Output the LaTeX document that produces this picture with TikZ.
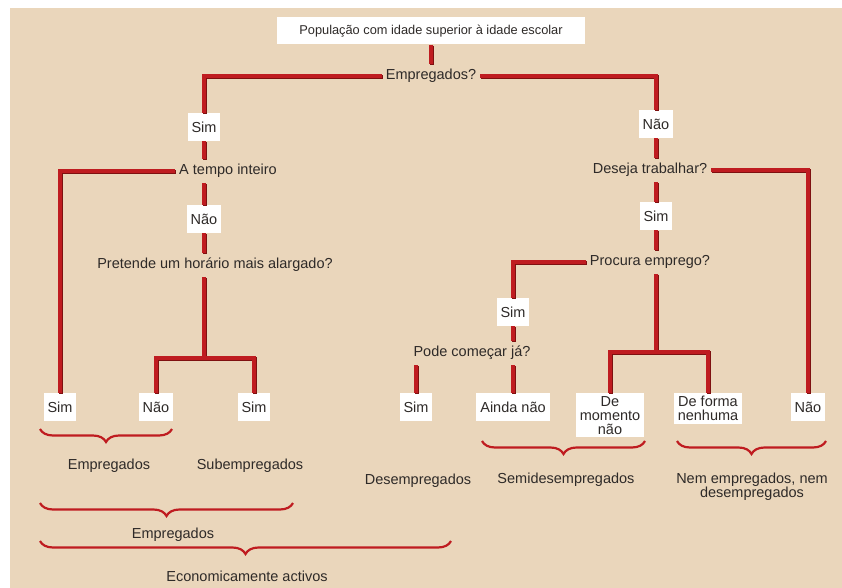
\documentclass[tikz,border=0pt]{standalone}
\usepackage{fontspec}
\setmainfont{Liberation Sans}
\usetikzlibrary{decorations.pathreplacing}
\definecolor{bg}{HTML}{EAD6BB}
\definecolor{lred}{HTML}{BF1C20}
\definecolor{ldark}{HTML}{7E1010}
\definecolor{txt}{HTML}{2E2A28}
\newcommand\lblfont{\fontsize{14.5}{14}\selectfont}
\newcommand\topfont{\fontsize{12.8}{12.8}\selectfont}
\begin{document}
\begin{tikzpicture}[x=1pt,y=-1pt,
  rl/.style={line width=4pt, draw=lred, line join=miter,
    preaction={draw=ldark, line width=4pt, transform canvas={shift={(0.9pt,-0.9pt)}}}},
  wbox/.style={fill=white, inner xsep=4pt, inner ysep=3pt, minimum height=28pt,
    font=\lblfont, text=txt, align=center},
  qtext/.style={inner xsep=4pt, inner ysep=5pt, font=\lblfont, text=txt},
  ltext/.style={font=\lblfont, text=txt, align=center},
  brc/.style={decorate, decoration={brace, mirror, amplitude=13pt}, draw=lred, line width=2.2pt}]
\useasboundingbox (0,0) rectangle (842,588);
\fill[bg] (10,8) rectangle (842,588);

% top
\node[fill=white, minimum width=308pt, minimum height=27pt, font=\topfont, text=txt] (top) at (431,31) {População com idade superior à idade escolar};
\node[qtext] (emp) at (431,76) {Empregados?};
\node[wbox] (sim1) at (204,127) {Sim};
\node[wbox] (nao1) at (656,124) {Não};
\node[qtext] (tempo) at (228,171) {A tempo inteiro};
\node[wbox] (nao2) at (204,219) {Não};
\node[qtext] (pret) at (215,265) {Pretende um horário mais alargado?};
\coordinate (j1) at (204,358);
\node[qtext] (deseja) at (650,170) {Deseja trabalhar?};
\node[wbox] (sim2) at (656,216) {Sim};
\node[qtext] (procura) at (650,262) {Procura emprego?};
\node[wbox] (sim4) at (513,312) {Sim};
\node[qtext] (pode) at (472,353) {Pode começar já?};
\coordinate (j2) at (656,352);

% bottom row
\node[wbox, anchor=north] (simA) at (60,393) {Sim};
\node[wbox, anchor=north] (nao3) at (156,393) {Não};
\node[wbox, anchor=north] (sim3) at (254,393) {Sim};
\node[wbox, anchor=north] (simD) at (416,393) {Sim};
\node[wbox, anchor=north] (ainda) at (513,393) {Ainda não};
\node[wbox, anchor=north] (dem) at (610,393) {De\\momento\\não};
\node[wbox, anchor=north] (forma) at (708,393) {De forma\\nenhuma};
\node[wbox, anchor=north] (naoR) at (808,393) {Não};

% connectors left
\draw[rl] (top.south) -- (emp.north);
\draw[rl] (emp.west) -| (sim1.north);
\draw[rl] (emp.east) -| (nao1.north);
\draw[rl] (sim1.south) -- (sim1.south |- tempo.north);
\draw[rl] (tempo.west) -| (simA.north);
\draw[rl] (sim1.south |- tempo.south) -- (nao2.north);
\draw[rl] (nao2.south) -- (nao2.south |- pret.north);
\draw[rl] (nao2.south |- pret.south) -- (j1);
\draw[rl] (nao3.north) |- (j1) -| (sim3.north);
% connectors right
\draw[rl] (nao1.south) -- (nao1.south |- deseja.north);
\draw[rl] (deseja.east) -| (naoR.north);
\draw[rl] (nao1.south |- deseja.south) -- (sim2.north);
\draw[rl] (sim2.south) -- (sim2.south |- procura.north);
\draw[rl] (procura.west) -| (sim4.north);
\draw[rl] (sim2.south |- procura.south) -- (j2);
\draw[rl] (dem.north) |- (j2) -| (forma.north);
\draw[rl] (sim4.south) -- (sim4.south |- pode.north);
\draw[rl] (sim4.south |- pode.south) -- (ainda.north);
\draw[rl] (simD.north |- pode.south) -- (simD.north);

% braces
\draw[brc] (40,429) -- (172,429);
\draw[brc] (482,441) -- (645,441);
\draw[brc] (677,441) -- (826,441);
\draw[brc] (40,503) -- (293,503);
\draw[brc] (40,541) -- (451,541);

% labels
\node[ltext] (l1) at (109,466) {Empregados};
\node[ltext] (l2) at (250,466) {Subempregados};
\node[ltext] (l3) at (418,481) {Desempregados};
\node[ltext] (l4) at (566,480) {Semidesempregados};
\node[ltext] (l5) at (752,487) {Nem empregados, nem\\desempregados};
\node[ltext] (l6) at (173,535) {Empregados};
\node[ltext] (l7) at (247,576) {Economicamente activos};
\end{tikzpicture}
\end{document}
